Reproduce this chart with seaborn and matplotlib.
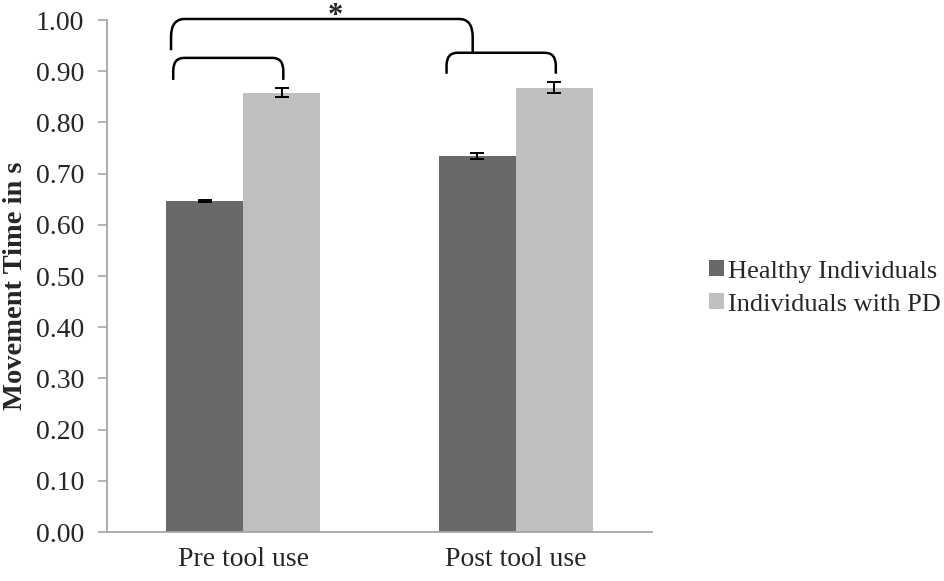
import pandas as pd
import seaborn as sns
import matplotlib.pyplot as plt
from matplotlib.path import Path
from matplotlib.patches import PathPatch, Patch

phases = ["Pre tool use", "Post tool use"]
groups = ["Healthy Individuals", "Individuals with PD"]
healthy = [0.647, 0.735]
healthy_err = [0.002, 0.006]
pd_group = [0.858, 0.868]
pd_err = [0.009, 0.011]
yticks = [0.0, 0.1, 0.2, 0.3, 0.4, 0.5, 0.6, 0.7, 0.8, 0.9, 1.0]

df = pd.DataFrame({
    "phase": phases * 2,
    "group": [groups[0]] * 2 + [groups[1]] * 2,
    "time": healthy + pd_group,
})

colors = ["#696969", "#bfbfbf"]
axis_gray = "#a6a6a6"
serif = ["Liberation Serif", "DejaVu Serif"]

sns.set_style("white")
plt.rcParams["font.family"] = serif

fig = plt.figure(figsize=(9.45, 5.81), dpi=100)
ax = fig.add_axes([107 / 945, 49 / 581, 545 / 945, 512 / 581])

sns.barplot(data=df, x="phase", y="time", hue="group", palette=colors,
            width=0.566, errorbar=None, saturation=1, linewidth=0,
            legend=False, ax=ax)

# error bars on each bar
errs = [healthy_err, pd_err]
vals = [healthy, pd_group]
bar_conts = list(ax.containers)
for i, cont in enumerate(bar_conts):
    xs = [b.get_x() + b.get_width() / 2 for b in cont]
    ax.errorbar(xs, vals[i], yerr=errs[i], fmt="none", ecolor="black",
                elinewidth=1.4, capsize=5, capthick=1.4)

ax.set_xlim(-0.5, 1.5)
ax.set_ylim(0, 1.0)
ax.set_yticks(yticks)
ax.set_yticklabels([f"{t:.2f}" for t in yticks], fontsize=20)
ax.tick_params(axis="y", direction="out", length=6.5, color=axis_gray,
               width=1.2, left=True, pad=10)
ax.tick_params(axis="x", length=0, labelsize=20, pad=11)
ax.set_xlabel("")
ax.set_ylabel("Movement Time in s", fontsize=20.5, fontweight="bold")
ax.yaxis.set_label_coords(-0.145, 0.48)
for s in ["top", "right"]:
    ax.spines[s].set_visible(False)
for s in ["left", "bottom"]:
    ax.spines[s].set_color(axis_gray)
    ax.spines[s].set_linewidth(1.3)


def bracket(x0, x1, yb0, yb1, ytop, dx=0.04, dy=0.025):
    verts = [(x0, yb0), (x0, ytop - dy), (x0, ytop), (x0 + dx, ytop),
             (x1 - dx, ytop), (x1, ytop), (x1, ytop - dy), (x1, yb1)]
    codes = [Path.MOVETO, Path.LINETO, Path.CURVE3, Path.CURVE3,
             Path.LINETO, Path.CURVE3, Path.CURVE3, Path.LINETO]
    ax.add_patch(PathPatch(Path(verts, codes), fill=False, edgecolor="black",
                           linewidth=1.8, clip_on=False))


bracket(-0.257, 0.147, 0.883, 0.883, 0.926)
bracket(0.746, 1.147, 0.895, 0.895, 0.936)
bracket(-0.265, 0.842, 0.941, 0.936, 1.002, dx=0.05, dy=0.035)
ax.text(0.338, 0.993, "*", ha="center", va="baseline", fontsize=22,
        fontweight="bold", clip_on=False)

handles = [Patch(facecolor=c, edgecolor="none") for c in colors]
fig.legend(handles, groups, loc="center left",
           bbox_to_anchor=(696 / 945, 1 - 288 / 581), frameon=False,
           fontsize=19, handlelength=0.55, handleheight=0.55,
           handletextpad=0.15, labelspacing=0.4, borderpad=0)

fig.savefig("out.png", dpi=100)
